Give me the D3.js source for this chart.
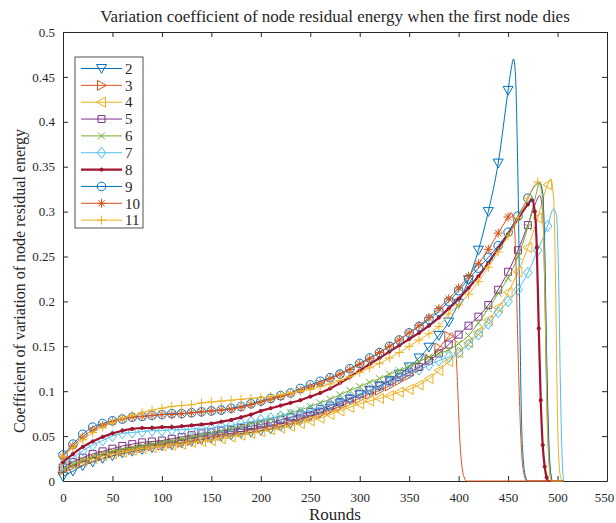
<!DOCTYPE html>
<html>
<head>
<meta charset="utf-8">
<script src="https://cdn.jsdelivr.net/npm/d3@7"></script>
<style>
  body { margin: 0; background: #fff; }
  svg text { font-family: "Liberation Serif", "Times New Roman", serif; fill: #262626; }
</style>
</head>
<body>
<div id="chart"></div>
<script>
// series data: [round, coefficient]
const s2 = [[0,0.005],[10,0.011],[20,0.017],[30,0.021],[40,0.025],[50,0.028],[60,0.031],[70,0.033],[80,0.035],[90,0.037],[100,0.039],[110,0.040],[120,0.042],[130,0.044],[140,0.046],[150,0.048],[160,0.050],[170,0.051],[180,0.053],[190,0.054],[200,0.056],[210,0.058],[220,0.061],[230,0.064],[240,0.068],[250,0.072],[260,0.076],[270,0.081],[280,0.086],[290,0.091],[300,0.096],[310,0.101],[320,0.106],[330,0.112],[340,0.119],[350,0.127],[360,0.137],[370,0.149],[380,0.162],[390,0.177],[400,0.198],[410,0.224],[420,0.257],[430,0.300],[440,0.354],[450,0.435],[453,0.458],[455.5,0.470],[457.5,0.452],[459,0.39],[460.5,0.30],[462,0.17],[463.5,0.07],[465,0.03],[467,0.008],[470,0],[506,0]];
const s3 = [[0,0.012],[10,0.017],[20,0.021],[30,0.025],[40,0.028],[50,0.031],[60,0.033],[70,0.035],[80,0.037],[90,0.039],[100,0.040],[110,0.042],[120,0.043],[130,0.045],[140,0.047],[150,0.049],[160,0.051],[170,0.053],[180,0.055],[190,0.057],[200,0.059],[210,0.061],[220,0.063],[230,0.066],[240,0.069],[250,0.072],[260,0.075],[270,0.079],[280,0.083],[290,0.088],[300,0.092],[310,0.097],[320,0.101],[330,0.106],[340,0.112],[350,0.118],[360,0.126],[370,0.135],[380,0.148],[390,0.161],[393,0.165],[396,0.158],[398,0.13],[399.5,0.09],[401,0.05],[403,0.02],[405,0.006],[408,0],[506,0]];
const s4 = [[0,0.015],[10,0.019],[20,0.022],[30,0.025],[40,0.028],[50,0.030],[60,0.032],[70,0.034],[80,0.036],[90,0.037],[100,0.039],[110,0.040],[120,0.041],[130,0.043],[140,0.044],[150,0.045],[160,0.047],[170,0.049],[180,0.051],[190,0.053],[200,0.055],[210,0.057],[220,0.059],[230,0.061],[240,0.064],[250,0.067],[260,0.070],[270,0.074],[280,0.078],[290,0.082],[300,0.086],[310,0.089],[320,0.092],[330,0.095],[340,0.099],[350,0.102],[360,0.107],[370,0.114],[380,0.123],[390,0.133],[400,0.143],[410,0.154],[420,0.166],[430,0.179],[440,0.193],[450,0.210],[460,0.233],[470,0.260],[480,0.293],[490,0.330],[493,0.336],[496,0.315],[498,0.22],[499.5,0.10],[501,0.03],[503,0.005],[505,0],[506,0]];
const s5 = [[0,0.015],[10,0.021],[20,0.026],[30,0.030],[40,0.033],[50,0.036],[60,0.039],[70,0.041],[80,0.043],[90,0.044],[100,0.045],[110,0.047],[120,0.049],[130,0.051],[140,0.053],[150,0.054],[160,0.056],[170,0.057],[180,0.059],[190,0.061],[200,0.063],[210,0.065],[220,0.068],[230,0.071],[240,0.074],[250,0.077],[260,0.080],[270,0.084],[280,0.088],[290,0.092],[300,0.097],[310,0.101],[320,0.106],[330,0.111],[340,0.116],[350,0.121],[360,0.127],[370,0.134],[380,0.142],[390,0.152],[400,0.163],[410,0.173],[420,0.183],[430,0.196],[440,0.213],[450,0.233],[460,0.257],[470,0.285],[478,0.31],[482,0.318],[485,0.30],[487,0.22],[489,0.10],[491,0.03],[493,0.005],[495,0],[506,0]];
const s6 = [[0,0.012],[10,0.018],[20,0.023],[30,0.027],[40,0.030],[50,0.033],[60,0.035],[70,0.037],[80,0.039],[90,0.041],[100,0.043],[110,0.045],[120,0.047],[130,0.049],[140,0.051],[150,0.054],[160,0.056],[170,0.059],[180,0.061],[190,0.064],[200,0.066],[210,0.069],[220,0.072],[230,0.076],[240,0.079],[250,0.083],[260,0.087],[270,0.091],[280,0.096],[290,0.101],[300,0.105],[310,0.110],[320,0.114],[330,0.119],[340,0.123],[350,0.128],[360,0.133],[370,0.138],[380,0.142],[390,0.146],[400,0.153],[410,0.162],[420,0.176],[430,0.192],[440,0.209],[450,0.226],[460,0.250],[470,0.283],[478,0.318],[482,0.332],[485,0.32],[487,0.25],[489,0.12],[491,0.04],[493,0.008],[495,0],[506,0]];
const s7 = [[0,0.018],[10,0.026],[20,0.034],[30,0.040],[40,0.045],[50,0.050],[60,0.053],[70,0.054],[80,0.055],[90,0.056],[100,0.056],[110,0.057],[120,0.057],[130,0.058],[140,0.058],[150,0.059],[160,0.061],[170,0.062],[180,0.064],[190,0.066],[200,0.068],[210,0.070],[220,0.072],[230,0.074],[240,0.076],[250,0.079],[260,0.082],[270,0.085],[280,0.089],[290,0.093],[300,0.097],[310,0.101],[320,0.105],[330,0.110],[340,0.115],[350,0.120],[360,0.124],[370,0.129],[380,0.134],[390,0.138],[400,0.143],[410,0.152],[420,0.163],[430,0.175],[440,0.188],[450,0.200],[460,0.213],[470,0.232],[480,0.257],[490,0.284],[496,0.303],[499,0.295],[501,0.23],[503,0.10],[504.5,0.03],[506,0]];
const s8 = [[0,0.021],[10,0.030],[20,0.038],[30,0.044],[40,0.049],[50,0.053],[60,0.056],[70,0.058],[80,0.059],[90,0.059],[100,0.060],[110,0.060],[120,0.061],[130,0.062],[140,0.063],[150,0.064],[160,0.066],[170,0.068],[180,0.071],[190,0.074],[200,0.078],[210,0.081],[220,0.084],[230,0.087],[240,0.090],[250,0.094],[260,0.098],[270,0.103],[280,0.109],[290,0.116],[300,0.123],[310,0.130],[320,0.137],[330,0.144],[340,0.151],[350,0.158],[360,0.165],[370,0.173],[380,0.182],[390,0.192],[400,0.203],[410,0.215],[420,0.228],[430,0.243],[440,0.259],[450,0.275],[460,0.292],[470,0.308],[474,0.313],[477,0.30],[479,0.26],[481,0.17],[483,0.09],[485,0.04],[487,0.016],[489,0.004],[491,0],[506,0]];
const s9 = [[0,0.029],[10,0.041],[20,0.052],[30,0.060],[40,0.064],[50,0.067],[60,0.069],[70,0.071],[80,0.072],[90,0.073],[100,0.074],[110,0.075],[120,0.075],[130,0.076],[140,0.077],[150,0.078],[160,0.079],[170,0.081],[180,0.083],[190,0.086],[200,0.089],[210,0.092],[220,0.095],[230,0.098],[240,0.103],[250,0.107],[260,0.111],[270,0.115],[280,0.119],[290,0.125],[300,0.131],[310,0.137],[320,0.143],[330,0.150],[340,0.157],[350,0.165],[360,0.172],[370,0.180],[380,0.189],[390,0.200],[400,0.212],[410,0.225],[420,0.237],[430,0.249],[440,0.262],[450,0.277],[460,0.295],[470,0.315],[478,0.330],[482,0.332],[485,0.32],[487,0.26],[489,0.14],[491,0.05],[493,0.01],[495,0],[506,0]];
const s10 = [[0,0.027],[10,0.039],[20,0.049],[30,0.057],[40,0.062],[50,0.066],[60,0.069],[70,0.071],[80,0.072],[90,0.073],[100,0.074],[110,0.074],[120,0.075],[130,0.076],[140,0.077],[150,0.078],[160,0.079],[170,0.080],[180,0.082],[190,0.085],[200,0.088],[210,0.091],[220,0.094],[230,0.097],[240,0.101],[250,0.105],[260,0.109],[270,0.114],[280,0.119],[290,0.124],[300,0.130],[310,0.136],[320,0.143],[330,0.150],[340,0.157],[350,0.165],[360,0.173],[370,0.182],[380,0.192],[390,0.203],[400,0.215],[410,0.228],[420,0.242],[430,0.258],[440,0.276],[450,0.294],[453,0.299],[456,0.288],[458,0.24],[459.5,0.17],[461.5,0.09],[463.5,0.035],[466,0.008],[469,0],[506,0]];
const s11 = [[0,0.027],[10,0.037],[20,0.046],[30,0.054],[40,0.060],[50,0.065],[60,0.070],[70,0.073],[80,0.076],[90,0.079],[100,0.081],[110,0.083],[120,0.084],[130,0.085],[140,0.087],[150,0.088],[160,0.089],[170,0.090],[180,0.091],[190,0.092],[200,0.093],[210,0.094],[220,0.096],[230,0.098],[240,0.100],[250,0.102],[260,0.105],[270,0.108],[280,0.112],[290,0.116],[300,0.121],[310,0.126],[320,0.131],[330,0.137],[340,0.143],[350,0.150],[360,0.157],[370,0.164],[380,0.172],[390,0.186],[400,0.196],[410,0.208],[420,0.222],[430,0.238],[440,0.255],[450,0.273],[460,0.293],[470,0.315],[477,0.330],[480,0.333],[484,0.32],[486,0.27],[488,0.16],[489.5,0.07],[491.5,0.018],[494,0],[506,0]];

const seriesNames = ['2','3','4','5','6','7','8','9','10','11'];
const seriesData = [s2, s3, s4, s5, s6, s7, s8, s9, s10, s11];
const seriesColors = ['#0072BD','#D95319','#EDB120','#7E2F8E','#77AC30','#4DBEEE','#A2142F','#0072BD','#D95319','#EDB120'];
const seriesMarkers = ['v','>','<','s','x','d','.','o','*','+'];
const xTicks = d3.range(0, 551, 50);
const yTicks = [0,0.05,0.1,0.15,0.2,0.25,0.3,0.35,0.4,0.45,0.5];

const W = 616, H = 523;
const plot = {left: 63, right: 607, top: 32, bottom: 481};

const svg = d3.select('#chart').append('svg')
    .attr('width', W)
    .attr('height', H);

const x = d3.scaleLinear().domain([0, 550]).range([plot.left, plot.right]);
const y = d3.scaleLinear().domain([0, 0.5]).range([plot.bottom, plot.top]);

// marker shapes, roughly matching matlab default size
function markerPath(type) {
    const p = d3.path();
    switch (type) {
        case 'v': p.moveTo(-5,-4); p.lineTo(5,-4); p.lineTo(0,4.8); p.closePath(); break;
        case '>': p.moveTo(-4,-5); p.lineTo(-4,5); p.lineTo(4.8,0); p.closePath(); break;
        case '<': p.moveTo(4,-5); p.lineTo(4,5); p.lineTo(-4.8,0); p.closePath(); break;
        case 's': p.rect(-3.5,-3.5,7,7); break;
        case 'x': p.moveTo(-3.5,-3.5); p.lineTo(3.5,3.5); p.moveTo(-3.5,3.5); p.lineTo(3.5,-3.5); break;
        case 'd': p.moveTo(0,-5.5); p.lineTo(4.2,0); p.lineTo(0,5.5); p.lineTo(-4.2,0); p.closePath(); break;
        case 'o': p.arc(0,0,4.3,0,2*Math.PI); break;
        case '*': p.moveTo(-4.5,0); p.lineTo(4.5,0); p.moveTo(0,-4.5); p.lineTo(0,4.5);
                  p.moveTo(-3.2,-3.2); p.lineTo(3.2,3.2); p.moveTo(-3.2,3.2); p.lineTo(3.2,-3.2); break;
        case '+': p.moveTo(-4.5,0); p.lineTo(4.5,0); p.moveTo(0,-4.5); p.lineTo(0,4.5); break;
        case '.': p.arc(0,0,1.6,0,2*Math.PI); break;
    }
    return p.toString();
}

// axes: ticks point inward on all four sides
const fmtY = d => String(+d.toFixed(2));
const axisG = svg.append('g').attr('class', 'axes');

const xAxisG = axisG.append('g')
    .attr('transform', `translate(0,${plot.bottom})`)
    .call(d3.axisBottom(x).tickValues(xTicks).tickSizeInner(-5).tickSizeOuter(0).tickPadding(12));
axisG.append('g')
    .attr('transform', `translate(0,${plot.top})`)
    .call(d3.axisTop(x).tickValues(xTicks).tickSizeInner(-5).tickSizeOuter(0).tickFormat(''));
axisG.append('g')
    .attr('transform', `translate(${plot.left},0)`)
    .call(d3.axisLeft(y).tickValues(yTicks).tickSizeInner(-5).tickSizeOuter(0).tickPadding(8).tickFormat(fmtY));
axisG.append('g')
    .attr('transform', `translate(${plot.right},0)`)
    .call(d3.axisRight(y).tickValues(yTicks).tickSizeInner(-5).tickSizeOuter(0).tickFormat(''));

axisG.selectAll('.domain').attr('stroke', '#262626');
axisG.selectAll('.tick line').attr('stroke', '#262626');
axisG.selectAll('.tick text')
    .style('font-family', '"Liberation Serif", serif')
    .style('font-size', '13px')
    .attr('fill', '#262626');
// last x label sits against the right edge, nudge it in a bit
xAxisG.selectAll('.tick text').filter(d => d === 550).attr('dx', -3);

const line = d3.line()
    .x(d => x(d[0]))
    .y(d => y(d[1]))
    .curve(d3.curveMonotoneX);

const seriesG = svg.append('g').attr('class', 'series');

seriesData.forEach((data, i) => {
    const g = seriesG.append('g');
    const col = seriesColors[i];
    const mk = seriesMarkers[i];
    g.append('path')
        .datum(data)
        .attr('fill', 'none')
        .attr('stroke', col)
        .attr('stroke-width', mk === '.' ? 2.2 : 1)
        .attr('stroke-linejoin', 'round')
        .attr('d', line);

    const pts = mk === '.' ? data.filter(d => d[1] > 0)
                           : data.filter(d => d[0] % 10 === 0 && d[1] > 0);
    g.selectAll('path.mk')
        .data(pts)
        .enter().append('path')
        .attr('class', 'mk')
        .attr('transform', d => `translate(${x(d[0])},${y(d[1])})`)
        .attr('d', markerPath(mk))
        .attr('fill', mk === '.' ? col : 'none')
        .attr('stroke', col)
        .attr('stroke-width', 1);
});

// legend
const leg = svg.append('g').attr('transform', 'translate(75,57)');
leg.append('rect')
    .attr('width', 68).attr('height', 171)
    .attr('fill', '#fff')
    .attr('stroke', '#262626')
    .attr('stroke-width', 0.8);

seriesNames.forEach((name, i) => {
    const cy = 11.5 + i * 16.85;
    const row = leg.append('g').attr('transform', `translate(0,${cy})`);
    row.append('line')
        .attr('x1', 6).attr('x2', 47)
        .attr('stroke', seriesColors[i])
        .attr('stroke-width', seriesMarkers[i] === '.' ? 2.2 : 1);
    row.append('path')
        .attr('transform', 'translate(26.5,0)')
        .attr('d', markerPath(seriesMarkers[i]))
        .attr('fill', seriesMarkers[i] === '.' ? seriesColors[i] : 'none')
        .attr('stroke', seriesColors[i]);
    row.append('text')
        .attr('x', 50).attr('y', 0).attr('dy', '0.35em')
        .style('font-size', '15px')
        .text(name);
});

// titles
svg.append('text')
    .attr('x', (plot.left + plot.right) / 2)
    .attr('y', 22)
    .attr('text-anchor', 'middle')
    .style('font-size', '17px')
    .text('Variation coefficient of node residual energy when the first node dies');

svg.append('text')
    .attr('x', (plot.left + plot.right) / 2)
    .attr('y', 520)
    .attr('text-anchor', 'middle')
    .style('font-size', '17px')
    .text('Rounds');

svg.append('text')
    .attr('transform', 'translate(25,281) rotate(-90)')
    .attr('text-anchor', 'middle')
    .style('font-size', '16px')
    .text('Coefficient of variation of node residual energy');
</script>
</body>
</html>
